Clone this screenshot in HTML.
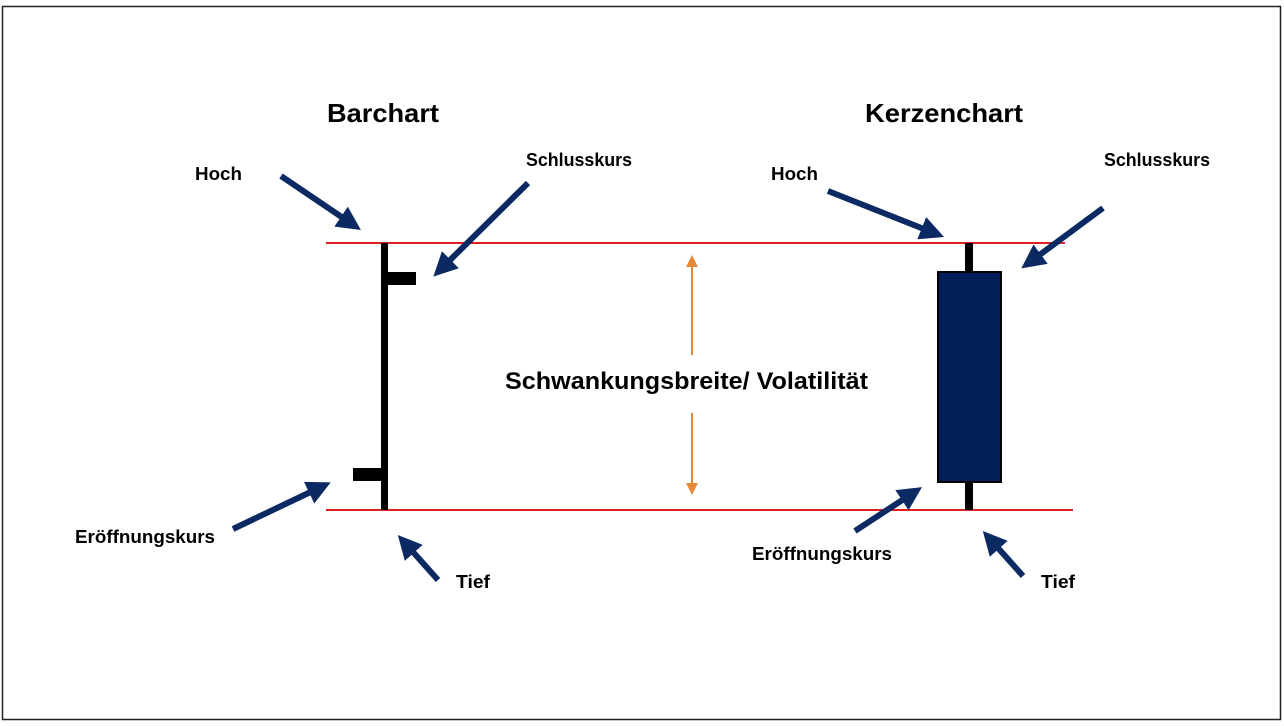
<!DOCTYPE html>
<html><head><style>html,body{margin:0;padding:0;background:#fff}svg{display:block}</style></head><body>
<svg width="1284" height="726" viewBox="0 0 1284 726" xmlns="http://www.w3.org/2000/svg" font-family="Liberation Sans, sans-serif" font-weight="bold">
<defs>
<marker id="a" markerWidth="4" markerHeight="4" refX="2.2" refY="2" orient="auto" markerUnits="strokeWidth"><path d="M0,0 L4,2 L0,4 Z" fill="#0b2a63"/></marker>
<marker id="o" markerWidth="6" markerHeight="6" refX="5" refY="3" orient="auto" markerUnits="strokeWidth"><path d="M0,0 L6,3 L0,6 Z" fill="#e8893a"/></marker>
</defs>
<rect x="2.5" y="6.5" width="1278" height="713" fill="#fff" stroke="#222" stroke-width="1.5"/>
<line x1="326" y1="243" x2="1065" y2="243" stroke="#e02020" stroke-width="2"/>
<line x1="326" y1="510" x2="1073" y2="510" stroke="#e02020" stroke-width="2"/>
<rect x="381" y="243" width="7" height="267" fill="#000"/>
<rect x="388" y="272" width="28" height="13" fill="#000"/>
<rect x="353" y="468" width="29" height="13" fill="#000"/>
<rect x="965" y="243" width="8" height="267" fill="#000"/>
<rect x="938" y="272" width="63" height="210" fill="#041e5a" stroke="#000" stroke-width="2"/>
<line x1="692" y1="355" x2="692" y2="257" stroke="#e8893a" stroke-width="2" marker-end="url(#o)"/>
<line x1="692" y1="413" x2="692" y2="493" stroke="#e8893a" stroke-width="2" marker-end="url(#o)"/>
<g stroke="#0b2a63" stroke-width="6" marker-end="url(#a)">
<line x1="281" y1="176" x2="352" y2="224"/>
<line x1="528" y1="183" x2="441" y2="269"/>
<line x1="233" y1="529" x2="321" y2="487"/>
<line x1="438" y1="580" x2="405" y2="543"/>
<line x1="828" y1="191" x2="934" y2="233"/>
<line x1="1103" y1="208" x2="1030" y2="262"/>
<line x1="855" y1="531" x2="913" y2="493"/>
<line x1="1023" y1="576" x2="990" y2="539"/>
</g>
<g fill="#000">
<text x="327" y="122" font-size="26" textLength="112" lengthAdjust="spacingAndGlyphs">Barchart</text>
<text x="865" y="122" font-size="26" textLength="158" lengthAdjust="spacingAndGlyphs">Kerzenchart</text>
<text x="505" y="389" font-size="24" textLength="363" lengthAdjust="spacingAndGlyphs">Schwankungsbreite/ Volatilität</text>
<g font-size="18">
<text x="195" y="180" textLength="47" lengthAdjust="spacingAndGlyphs">Hoch</text>
<text x="526" y="166" textLength="106" lengthAdjust="spacingAndGlyphs">Schlusskurs</text>
<text x="75" y="543" textLength="140" lengthAdjust="spacingAndGlyphs">Eröffnungskurs</text>
<text x="456" y="588" textLength="34" lengthAdjust="spacingAndGlyphs">Tief</text>
<text x="771" y="180" textLength="47" lengthAdjust="spacingAndGlyphs">Hoch</text>
<text x="1104" y="166" textLength="106" lengthAdjust="spacingAndGlyphs">Schlusskurs</text>
<text x="752" y="560" textLength="140" lengthAdjust="spacingAndGlyphs">Eröffnungskurs</text>
<text x="1041" y="588" textLength="34" lengthAdjust="spacingAndGlyphs">Tief</text>
</g></g>
</svg>
</body></html>
